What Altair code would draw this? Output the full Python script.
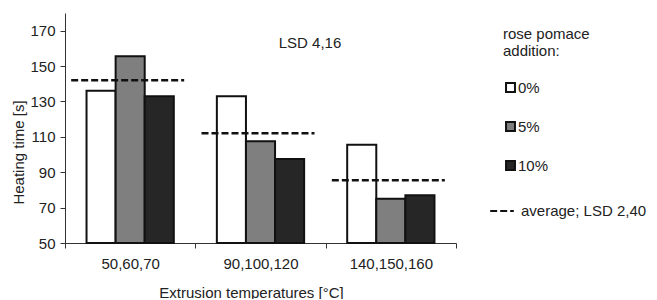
import altair as alt
import pandas as pd

categories = ["50,60,70", "90,100,120", "140,150,160"]
series = ["0%", "5%", "10%"]
values_0 = [136, 133, 105.5]
values_5 = [155.5, 107.5, 75]
values_10 = [133, 97.5, 77]
averages = [142, 112, 85.5]
avg_label = "average; LSD 2,40"
lsd_text = "LSD 4,16"
y_ticks = [50, 70, 90, 110, 130, 150, 170]

rows = []
for s, vals in zip(series, [values_0, values_5, values_10]):
    for c, v in zip(categories, vals):
        rows.append({"cat": c, "series": s, "value": v})
bars_df = pd.DataFrame(rows)
avg_df = pd.DataFrame({"cat": categories, "avg": averages, "label": [avg_label] * 3})

FONT = "Liberation Sans"
FS = 15
x_axis = alt.Axis(labelAngle=0, tickBand="extent", tickSize=5, labelPadding=8,
                  titlePadding=14, titleX=186, domainColor="#333", tickColor="#333")
y_axis = alt.Axis(values=y_ticks, grid=False, tickSize=5, labelPadding=5,
                  labelOverlap=False, titleX=-47, titleY=139, titleAngle=-90,
                  titleBaseline="middle", domainColor="#333", tickColor="#333")
x_scale = alt.Scale(paddingInner=0, paddingOuter=0)
y_scale = alt.Scale(domain=[50, 180], zero=False, nice=False)
x_title = "Extrusion temperatures  [°C]"
y_title = "Heating time [s]"

bars = alt.Chart(bars_df).mark_bar(stroke="#111", strokeWidth=2).encode(
    x=alt.X("cat:N", sort=categories, title=x_title, scale=x_scale, axis=x_axis),
    xOffset=alt.XOffset("series:N", sort=series,
                        scale=alt.Scale(domain=series, paddingInner=0, paddingOuter=0.74)),
    y=alt.Y("value:Q", scale=y_scale, title=y_title, axis=y_axis),
    y2=alt.datum(50),
    fill=alt.Fill("series:N", sort=series,
                  scale=alt.Scale(domain=series, range=["#ffffff", "#7f7f7f", "#262626"]),
                  legend=alt.Legend(title=["rose pomace", "addition:"], orient="none",
                                    legendX=438, legendY=14, symbolType="square",
                                    symbolSize=80, symbolStrokeColor="#111",
                                    symbolStrokeWidth=2, rowPadding=22, titlePadding=21,
                                    labelOffset=0, titleFontWeight="normal",
                                    titleLineHeight=17)),
)

avg = alt.Chart(avg_df).mark_rule(strokeWidth=2.5, color="#111", xOffset=-59, x2Offset=54).encode(
    x=alt.X("cat:N", sort=categories, title=x_title, scale=x_scale, axis=x_axis),
    x2=alt.X2("cat:N"),
    y=alt.Y("avg:Q", scale=y_scale, title=y_title, axis=y_axis),
    strokeDash=alt.StrokeDash("label:N",
                              scale=alt.Scale(domain=[avg_label], range=[[7, 3]]),
                              legend=alt.Legend(title=None, orient="none", legendX=424,
                                                legendY=185, symbolType="stroke",
                                                symbolSize=560, symbolStrokeColor="#111",
                                                symbolStrokeWidth=2, labelOffset=6)),
)

txt = alt.Chart(pd.DataFrame({"t": [lsd_text]})).mark_text(
    font=FONT, fontSize=FS, color="#222", align="center", baseline="middle"
).encode(x=alt.value(245), y=alt.value(30), text="t:N")

chart = alt.layer(bars, avg, txt).properties(
    width=391, height=230,
    autosize=alt.AutoSizeParams(type="none"),
    padding={"left": 57, "top": 5, "right": 193, "bottom": 56},
).configure(font=FONT).configure_view(stroke=None).configure_axis(
    labelFont=FONT, titleFont=FONT, labelFontSize=FS, titleFontSize=FS,
    labelColor="#222", titleColor="#222", titleFontWeight="normal"
).configure_legend(
    labelFont=FONT, titleFont=FONT, labelFontSize=FS, titleFontSize=FS,
    labelColor="#222", titleColor="#222"
)

chart.save("out.html", embed_options={"renderer": "svg", "actions": False})
